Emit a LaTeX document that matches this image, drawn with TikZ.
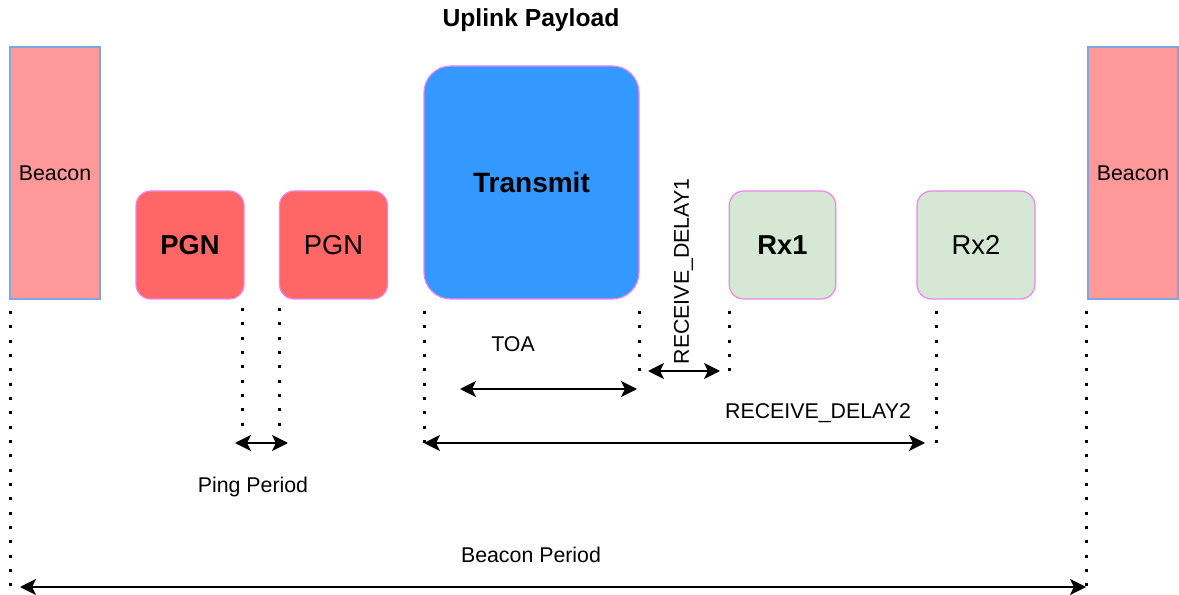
\documentclass[tikz,border=0pt]{standalone}
\usepackage{fontspec}
\setmainfont{Liberation Sans}
\usetikzlibrary{positioning,arrows.meta}
\definecolor{beaconred}{HTML}{FF9999}
\definecolor{beaconedge}{HTML}{7EA6E0}
\definecolor{pgnred}{HTML}{FF6666}
\definecolor{txblue}{HTML}{3399FF}
\definecolor{rxgreen}{HTML}{D5E8D4}
\definecolor{pinkedge}{HTML}{EE82EE}
\tikzstyle{beaconbox} = [rectangle, text centered, inner sep=0pt,
    minimum width=67.5pt, minimum height=189pt,
    draw=beaconedge, line width=0.9pt,
    fill=beaconred,
    font=\fontsize{16}{19}\selectfont]
\tikzstyle{slot} = [rectangle, text centered, inner sep=0pt,
    minimum width=81pt, minimum height=81pt, rounded corners=11pt,
    draw=pinkedge, line width=0.9pt,
    font=\fontsize{20.5}{24}\selectfont]
\tikzstyle{slotbold} = [slot, font=\fontsize{20.5}{24}\selectfont\bfseries]
\tikzstyle{dotline} = [black, line width=2.25pt, dash pattern=on 2.25pt off 8.5pt]
\tikzstyle{dimarrow} = [{Stealth[length=12pt,width=12pt,inset=3pt]}-{Stealth[length=12pt,width=12pt,inset=3pt]}, black, line width=1.4pt]
\tikzstyle{lbl} = [inner sep=0pt, font=\fontsize{16}{19}\selectfont]
\begin{document}
\begin{tikzpicture}[%
x=0.75pt, y=-0.75pt,
black,
text=black,
]
\useasboundingbox (0,0) rectangle (1179,595);

\node[beaconbox] (beaconL) at (55,173) {Beacon};
\node[beaconbox] (beaconR) at (1133,173) {Beacon};
\node[slotbold, fill=pgnred] (pgnA) at (190,245) {PGN};
\node[slot, fill=pgnred] (pgnB) at (333.5,245) {PGN};
\node[slotbold, fill=txblue, rounded corners=20pt,
      minimum width=161.25pt, minimum height=174.75pt,
      font=\fontsize{21}{25}\selectfont\bfseries] (transmit) at (531.5,182.5) {Transmit};
\node[slotbold, fill=rxgreen, minimum width=80pt] (rxA) at (782.5,245) {Rx1};
\node[slot, fill=rxgreen, minimum width=88.5pt] (rxB) at (976,245) {Rx2};
\node[inner sep=0pt, font=\fontsize{18.5}{22}\selectfont\bfseries] (uplink) at (531,20) {Uplink Payload};

% dotted guides below the slots
\coordinate (gBL1) at (10,311);   \coordinate (gBL2) at (10,587);
\coordinate (gBR1) at (1086,311); \coordinate (gBR2) at (1086,587);
\coordinate (gPA1) at (242,308);  \coordinate (gPA2) at (242,426);
\coordinate (gPB1) at (279,308);  \coordinate (gPB2) at (279,426);
\coordinate (gTL1) at (424,311);  \coordinate (gTL2) at (424,443);
\coordinate (gTR1) at (639,311);  \coordinate (gTR2) at (639,372);
\coordinate (gRA1) at (729,311);  \coordinate (gRA2) at (729,372);
\coordinate (gRB1) at (936,311);  \coordinate (gRB2) at (936,443);
\draw [dotline] (gBL1) -- (gBL2);
\draw [dotline] (gBR1) -- (gBR2);
\draw [dotline] (gPA1) -- (gPA2);
\draw [dotline] (gPB1) -- (gPB2);
\draw [dotline] (gTL1) -- (gTL2);
\draw [dotline] (gTR1) -- (gTR2);
\draw [dotline] (gRA1) -- (gRA2);
\draw [dotline] (gRB1) -- (gRB2);

% spans
\coordinate (pingL) at (235,443); \coordinate (pingR) at (288,443);
\coordinate (toaL) at (460,389);  \coordinate (toaR) at (637,389);
\coordinate (rdaL) at (648,371);  \coordinate (rdaR) at (720,371);
\coordinate (rdbL) at (424,443);  \coordinate (rdbR) at (925,443);
\coordinate (bpL) at (20,587);    \coordinate (bpR) at (1086,587);
\draw [dimarrow] (pingL) -- (pingR);
\draw [dimarrow] (toaL) -- (toaR);
\draw [dimarrow] (rdaL) -- (rdaR);
\draw [dimarrow] (rdbL) -- (rdbR);
\draw [dimarrow] (bpL) -- (bpR);

\node[lbl] (toa) at (513,344) {TOA};
\node[lbl, rotate=90] (rda) at (683.5,271.5) {RECEIVE\_DELAY1};
\node[lbl] (rdb) at (818,413) {RECEIVE\_DELAY2};
\node[lbl] (ping) at (253,487) {Ping Period};
\node[lbl] (bp) at (531,555) {Beacon Period};

\end{tikzpicture}
\end{document}
